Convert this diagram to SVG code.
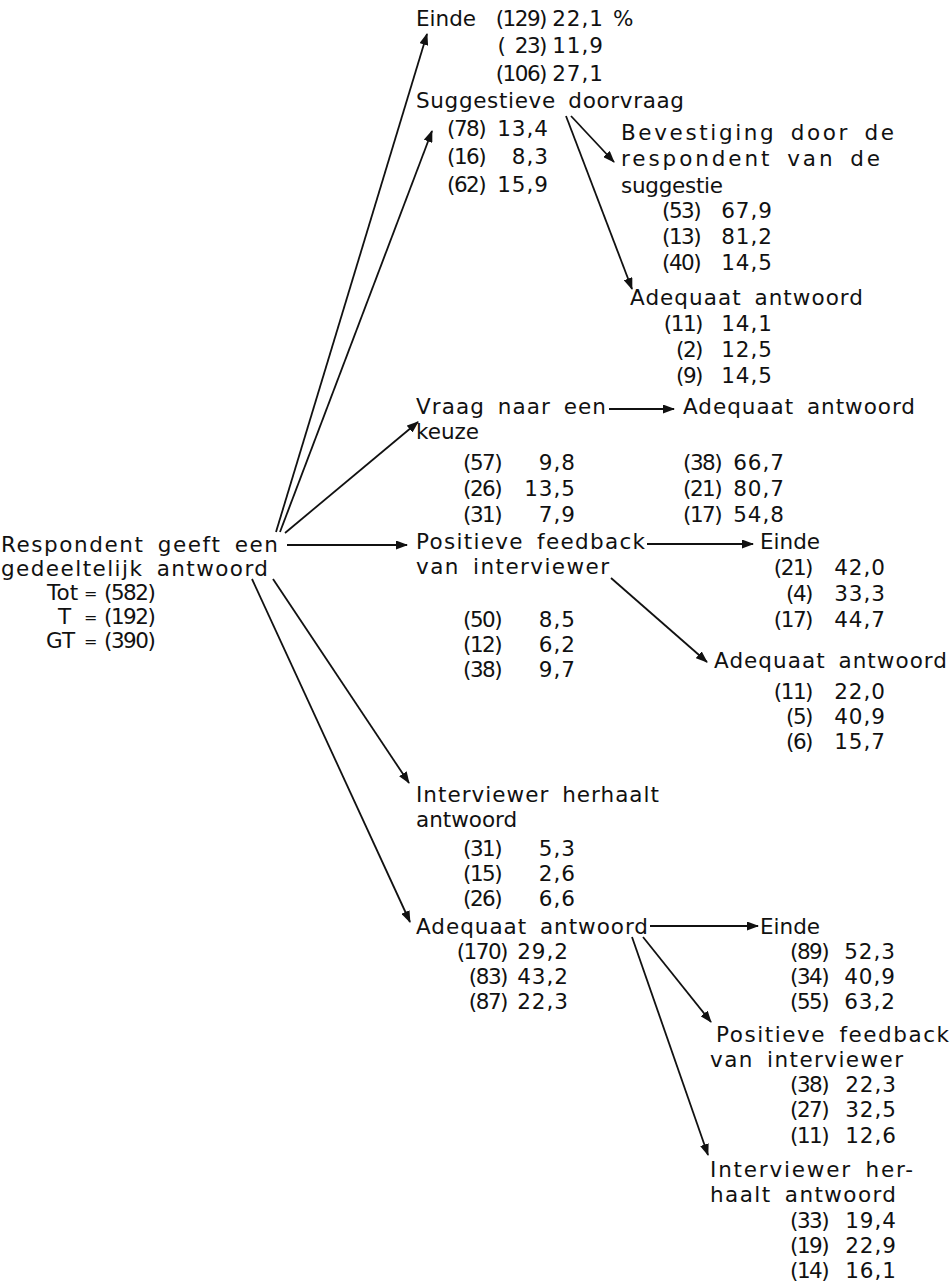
<svg xmlns="http://www.w3.org/2000/svg" width="952" height="1286" viewBox="0 0 952 1286">
<style>
text{font-family:"DejaVu Sans","Open Sans",sans-serif;font-size:21.5px;fill:#111;word-spacing:5px;}
.n{letter-spacing:-1.5px;}
.ne{letter-spacing:-1.5px;text-anchor:end;}
.p{text-anchor:end;letter-spacing:1px;}
.eq{font-size:16px;}
.c{stroke:#111;stroke-width:1.8;fill:none;marker-end:url(#ah);}
</style>
<defs>
<marker id="ah" markerUnits="userSpaceOnUse" markerWidth="12" markerHeight="9" refX="11" refY="4.5" orient="auto">
<path d="M0,0 L12,4.5 L0,9 z" fill="#111"/>
</marker>
</defs>
<rect width="952" height="1286" fill="#fff"/>

<g id="connectors">
<line class="c" x1="276" y1="532" x2="427" y2="34"/>
<line class="c" x1="280" y1="532" x2="432" y2="131"/>
<line class="c" x1="285" y1="533" x2="418" y2="422"/>
<line class="c" x1="287" y1="545" x2="407" y2="545"/>
<line class="c" x1="273" y1="579" x2="409" y2="783"/>
<line class="c" x1="252" y1="579" x2="410" y2="922"/>
<line class="c" x1="571" y1="116" x2="614" y2="162"/>
<line class="c" x1="566" y1="116" x2="632" y2="289"/>
<line class="c" x1="609" y1="409" x2="674" y2="409"/>
<line class="c" x1="647" y1="544" x2="753" y2="544"/>
<line class="c" x1="611" y1="578" x2="707" y2="662"/>
<line class="c" x1="650" y1="926" x2="758" y2="926"/>
<line class="c" x1="643" y1="937" x2="711" y2="1022"/>
<line class="c" x1="632" y1="937" x2="708" y2="1155"/>
</g>

<g id="n-start">
<text x="1" y="552" textLength="277">Respondent geeft een</text>
<text x="1" y="576" textLength="267">gedeeltelijk antwoord</text>
<text x="47" y="600">Tot</text><text class="eq" x="84" y="599">=</text><text class="n" x="104" y="600">(582)</text>
<text x="58" y="624">T</text><text class="eq" x="84" y="623">=</text><text class="n" x="104" y="624">(192)</text>
<text x="46" y="648">GT</text><text class="eq" x="84" y="647">=</text><text class="n" x="104" y="648">(390)</text>
</g>

<g id="n-einde-1">
<text x="416" y="26">Einde</text>
<text class="ne" x="546" y="26">(129)</text><text class="p" x="604" y="26">22,1</text><text x="613" y="26">%</text>
<text class="ne" x="546" y="53">( 23)</text><text class="p" x="604" y="53">11,9</text>
<text class="ne" x="546" y="81">(106)</text><text class="p" x="604" y="81">27,1</text>
</g>

<g id="n-suggestieve">
<text x="416" y="108" textLength="268">Suggestieve doorvraag</text>
<text class="n" x="447" y="136">(78)</text><text class="p" x="549" y="136">13,4</text>
<text class="n" x="447" y="164">(16)</text><text class="p" x="549" y="164">8,3</text>
<text class="n" x="447" y="192">(62)</text><text class="p" x="549" y="192">15,9</text>
</g>

<g id="n-bevestiging">
<text x="621" y="140" textLength="273">Bevestiging door de</text>
<text x="621" y="166" textLength="259">respondent van de</text>
<text x="621" y="193" textLength="102">suggestie</text>
<text class="n" x="662" y="218">(53)</text><text class="p" x="773" y="218">67,9</text>
<text class="n" x="662" y="244">(13)</text><text class="p" x="773" y="244">81,2</text>
<text class="n" x="662" y="270">(40)</text><text class="p" x="773" y="270">14,5</text>
</g>

<g id="n-adequaat-1">
<text x="630" y="305" textLength="233">Adequaat antwoord</text>
<text class="ne" x="702" y="331">(11)</text><text class="p" x="773" y="331">14,1</text>
<text class="ne" x="702" y="357">(2)</text><text class="p" x="773" y="357">12,5</text>
<text class="ne" x="702" y="383">(9)</text><text class="p" x="773" y="383">14,5</text>
</g>

<g id="n-vraag">
<text x="416" y="414" textLength="190">Vraag naar een</text>
<text x="416" y="439">keuze</text>
<text class="n" x="463" y="470">(57)</text><text class="p" x="576" y="470">9,8</text>
<text class="n" x="463" y="496">(26)</text><text class="p" x="576" y="496">13,5</text>
<text class="n" x="463" y="522">(31)</text><text class="p" x="576" y="522">7,9</text>
</g>

<g id="n-adequaat-2">
<text x="683" y="414" textLength="232">Adequaat antwoord</text>
<text class="n" x="683" y="470">(38)</text><text class="p" x="785" y="470">66,7</text>
<text class="n" x="683" y="496">(21)</text><text class="p" x="785" y="496">80,7</text>
<text class="n" x="683" y="522">(17)</text><text class="p" x="785" y="522">54,8</text>
</g>

<g id="n-positieve-1">
<text x="416" y="549" textLength="229">Positieve feedback</text>
<text x="416" y="574" textLength="193">van interviewer</text>
<text class="n" x="463" y="627">(50)</text><text class="p" x="576" y="627">8,5</text>
<text class="n" x="463" y="652">(12)</text><text class="p" x="576" y="652">6,2</text>
<text class="n" x="463" y="677">(38)</text><text class="p" x="576" y="677">9,7</text>
</g>

<g id="n-einde-2">
<text x="760" y="549">Einde</text>
<text class="ne" x="812" y="575">(21)</text><text class="p" x="886" y="575">42,0</text>
<text class="ne" x="812" y="601">(4)</text><text class="p" x="886" y="601">33,3</text>
<text class="ne" x="812" y="627">(17)</text><text class="p" x="886" y="627">44,7</text>
</g>

<g id="n-adequaat-3">
<text x="714" y="668" textLength="233">Adequaat antwoord</text>
<text class="ne" x="812" y="699">(11)</text><text class="p" x="886" y="699">22,0</text>
<text class="ne" x="812" y="724">(5)</text><text class="p" x="886" y="724">40,9</text>
<text class="ne" x="812" y="749">(6)</text><text class="p" x="886" y="749">15,7</text>
</g>

<g id="n-herhaalt-1">
<text x="416" y="802" textLength="243">Interviewer herhaalt</text>
<text x="416" y="827">antwoord</text>
<text class="n" x="463" y="856">(31)</text><text class="p" x="576" y="856">5,3</text>
<text class="n" x="463" y="881">(15)</text><text class="p" x="576" y="881">2,6</text>
<text class="n" x="463" y="906">(26)</text><text class="p" x="576" y="906">6,6</text>
</g>

<g id="n-adequaat-4">
<text x="416" y="934" textLength="232">Adequaat antwoord</text>
<text class="ne" x="507" y="959">(170)</text><text class="p" x="569" y="959">29,2</text>
<text class="ne" x="507" y="984">(83)</text><text class="p" x="569" y="984">43,2</text>
<text class="ne" x="507" y="1009">(87)</text><text class="p" x="569" y="1009">22,3</text>
</g>

<g id="n-einde-3">
<text x="760" y="934">Einde</text>
<text class="n" x="790" y="959">(89)</text><text class="p" x="896" y="959">52,3</text>
<text class="n" x="790" y="984">(34)</text><text class="p" x="896" y="984">40,9</text>
<text class="n" x="790" y="1009">(55)</text><text class="p" x="896" y="1009">63,2</text>
</g>

<g id="n-positieve-2">
<text x="716" y="1042" textLength="233">Positieve feedback</text>
<text x="710" y="1067" textLength="193">van interviewer</text>
<text class="n" x="790" y="1092">(38)</text><text class="p" x="897" y="1092">22,3</text>
<text class="n" x="790" y="1117">(27)</text><text class="p" x="897" y="1117">32,5</text>
<text class="n" x="790" y="1143">(11)</text><text class="p" x="897" y="1143">12,6</text>
</g>

<g id="n-herhaalt-2">
<text x="710" y="1177" textLength="203">Interviewer her-</text>
<text x="710" y="1202" textLength="186">haalt antwoord</text>
<text class="n" x="790" y="1228">(33)</text><text class="p" x="897" y="1228">19,4</text>
<text class="n" x="790" y="1253">(19)</text><text class="p" x="897" y="1253">22,9</text>
<text class="n" x="790" y="1278">(14)</text><text class="p" x="897" y="1278">16,1</text>
</g>
</svg>
